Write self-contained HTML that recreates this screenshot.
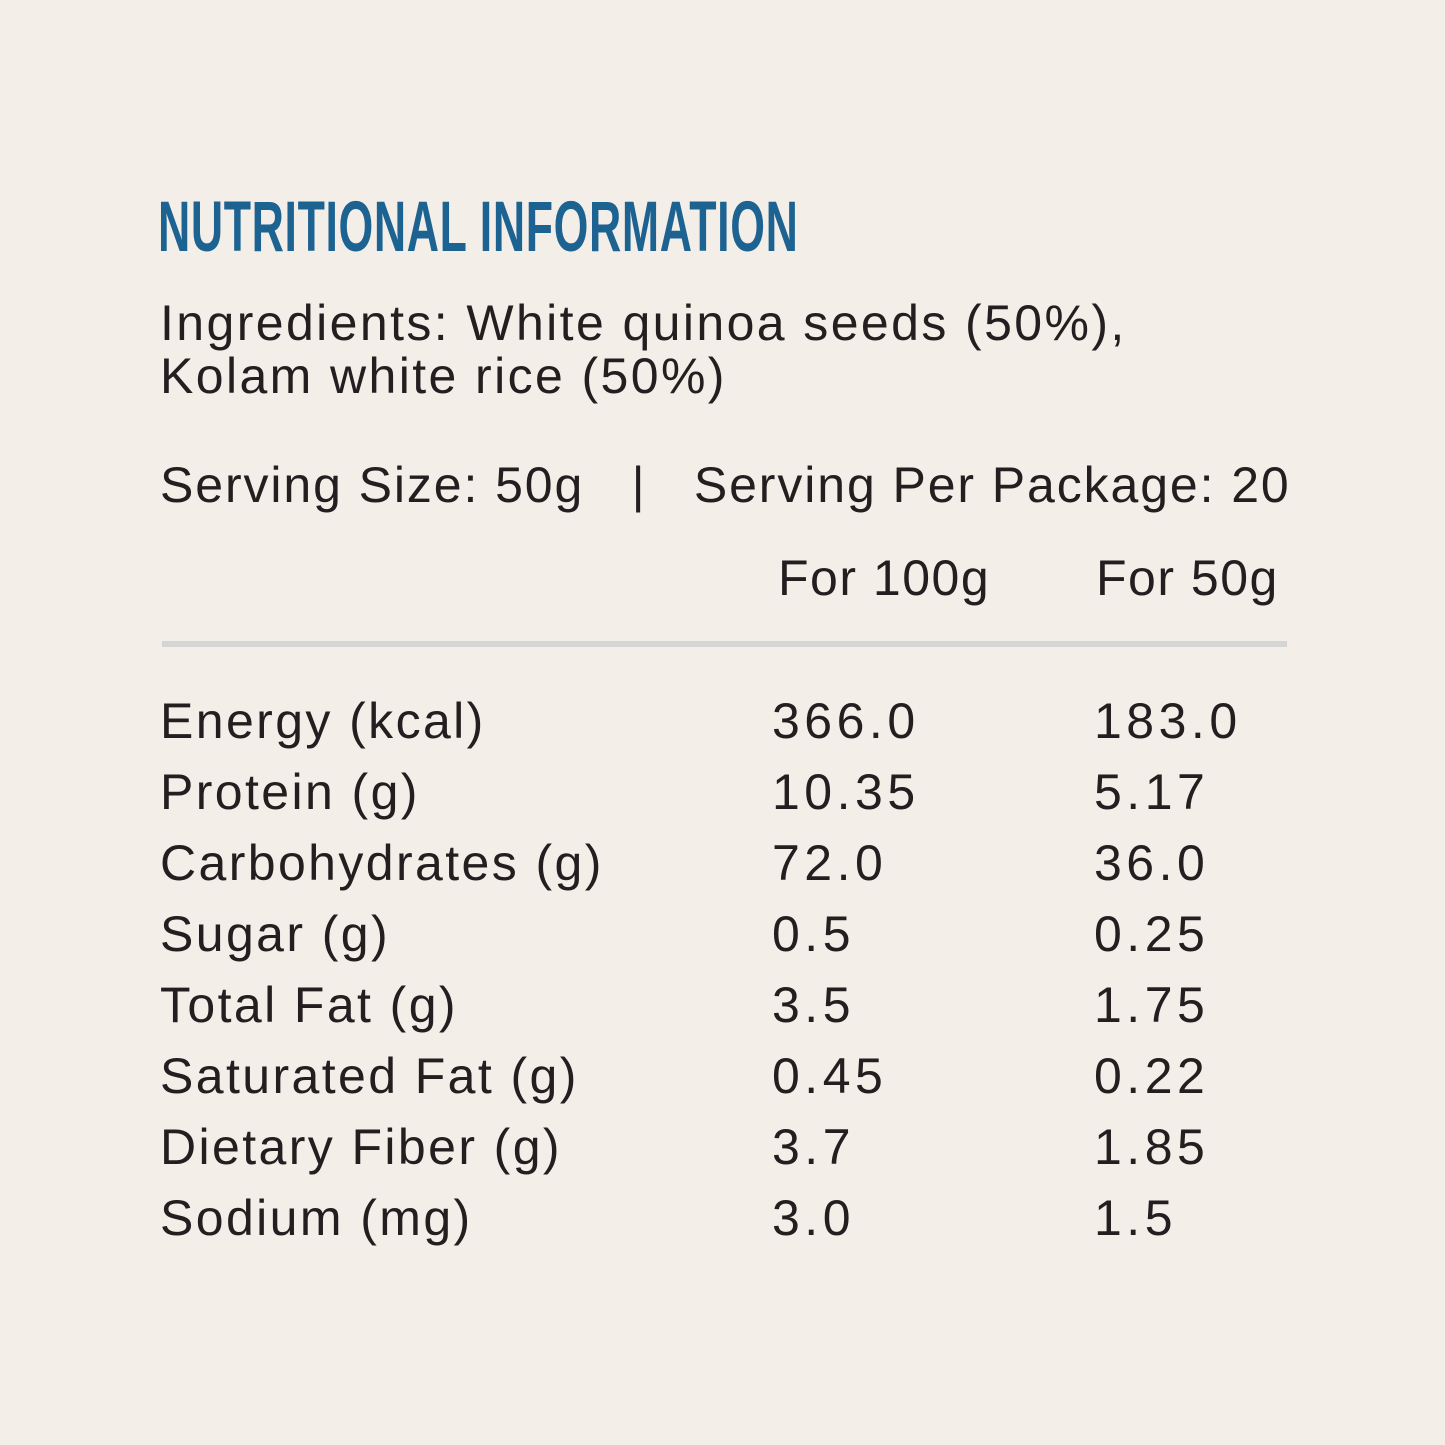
<!DOCTYPE html>
<html><head><meta charset="utf-8"><style>
html,body{margin:0;padding:0}
body{width:1445px;height:1445px;background:#f3eee8;position:relative;overflow:hidden;font-family:"Liberation Sans",sans-serif;color:#231f20}
.t{position:absolute;font-size:50px;line-height:50px;letter-spacing:2.4px;white-space:nowrap}
.n{letter-spacing:4.5px}
.h{position:absolute;left:158px;top:192px;font-size:71px;line-height:71px;font-weight:bold;color:#1d6392;transform-origin:0 0;transform:scaleX(0.629);white-space:nowrap;letter-spacing:1px}
.line{position:absolute;left:162px;top:641px;width:1125px;height:6px;background:#d4d5d4}
</style></head><body>
<div class="h">NUTRITIONAL INFORMATION</div>
<div class="t" style="left:160px;top:298px">Ingredients: White quinoa seeds (50%),</div>
<div class="t" style="left:160px;top:351px">Kolam white rice (50%)</div>
<div class="t" style="left:160px;top:460px;letter-spacing:1.9px">Serving Size: 50g &nbsp; | &nbsp; Serving Per Package: 20</div>
<div class="t" style="left:778px;top:553px;letter-spacing:1.5px">For 100g</div>
<div class="t" style="left:1096px;top:553px;letter-spacing:1.5px">For 50g</div>
<div class="line"></div>
<div class="t" style="left:160px;top:696px">Energy (kcal)</div><div class="t n" style="left:772px;top:696px">366.0</div><div class="t n" style="left:1094px;top:696px">183.0</div>
<div class="t" style="left:160px;top:767px">Protein (g)</div><div class="t n" style="left:772px;top:767px">10.35</div><div class="t n" style="left:1094px;top:767px">5.17</div>
<div class="t" style="left:160px;top:838px">Carbohydrates (g)</div><div class="t n" style="left:772px;top:838px">72.0</div><div class="t n" style="left:1094px;top:838px">36.0</div>
<div class="t" style="left:160px;top:909px">Sugar (g)</div><div class="t n" style="left:772px;top:909px">0.5</div><div class="t n" style="left:1094px;top:909px">0.25</div>
<div class="t" style="left:160px;top:980px">Total Fat (g)</div><div class="t n" style="left:772px;top:980px">3.5</div><div class="t n" style="left:1094px;top:980px">1.75</div>
<div class="t" style="left:160px;top:1051px">Saturated Fat (g)</div><div class="t n" style="left:772px;top:1051px">0.45</div><div class="t n" style="left:1094px;top:1051px">0.22</div>
<div class="t" style="left:160px;top:1122px">Dietary Fiber (g)</div><div class="t n" style="left:772px;top:1122px">3.7</div><div class="t n" style="left:1094px;top:1122px">1.85</div>
<div class="t" style="left:160px;top:1193px">Sodium (mg)</div><div class="t n" style="left:772px;top:1193px">3.0</div><div class="t n" style="left:1094px;top:1193px">1.5</div>
</body></html>
